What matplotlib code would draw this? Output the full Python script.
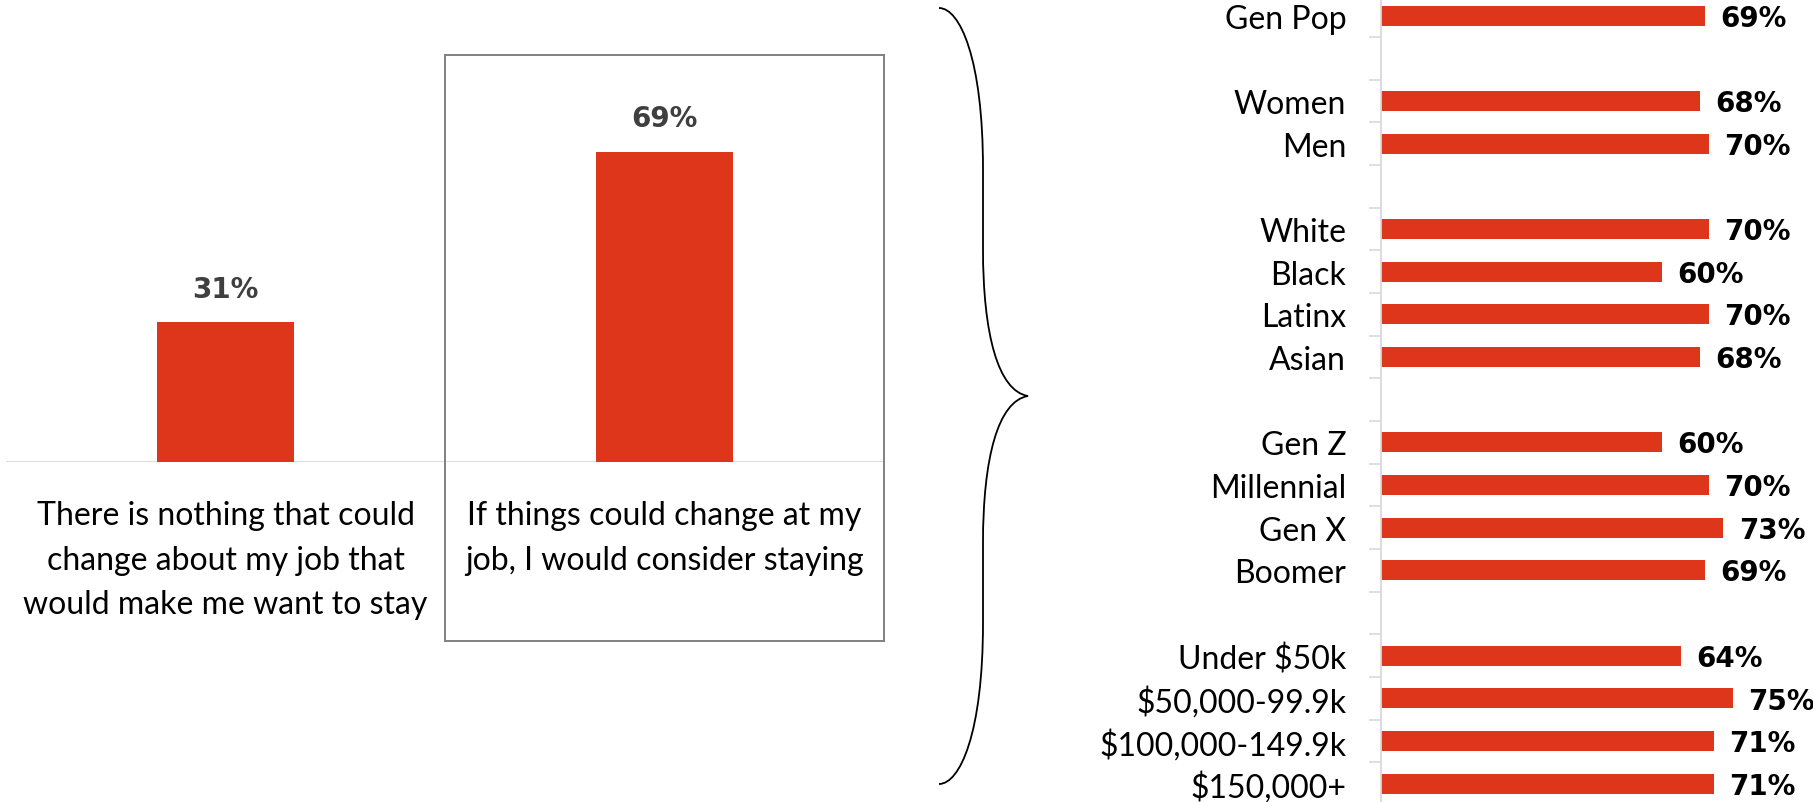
import numpy as np
import matplotlib
matplotlib.use('Agg')
import matplotlib.pyplot as plt
from matplotlib.patches import Rectangle, PathPatch
from matplotlib.path import Path
from matplotlib import rcParams

rcParams['font.family'] = 'Lato'

# overall answer
answers = ['There is nothing that could\nchange about my job that\nwould make me want to stay',
           'If things could change at my\njob, I would consider staying']
answer_pct = [31, 69]

# "would consider staying" by segment
groups = [
    (['Gen Pop'], [69]),
    (['Women', 'Men'], [68, 70]),
    (['White', 'Black', 'Latinx', 'Asian'], [70, 60, 70, 68]),
    (['Gen Z', 'Millennial', 'Gen X', 'Boomer'], [60, 70, 73, 69]),
    (['Under $50k', '$50,000-99.9k', '$100,000-149.9k', '$150,000+'], [64, 75, 71, 71]),
]

red = '#DD361A'
grid_grey = '#D9D9D9'
W, H = 1813, 803
pct_font = dict(family='DejaVu Sans', fontsize=20, fontweight='bold')

fig = plt.figure(figsize=(W / 100, H / 100), dpi=100, facecolor='white')

# ---- left: two big bars ----
ax = fig.add_axes([6 / W, (H - 462.5) / H, 878 / W, 449 / H])
x = np.arange(len(answers))
ax.bar(x, answer_pct, width=0.31, color=red, zorder=2)
ax.axhline(0, color=grid_grey, lw=1.3, zorder=1)
ax.set_xlim(-0.5, 1.5)
ax.set_ylim(0, 100)
ax.axis('off')
for xi, v in zip(x, answer_pct):
    ax.annotate(f'{v}%', (xi, v), xytext=(0, 24), textcoords='offset points',
                ha='center', va='center', color='#3F3F3F', **pct_font)
for xi, txt in zip(x, answers):
    ax.text(xi, -8.5, txt, ha='center', va='top', fontsize=23,
            color='black', linespacing=1.62)
# frame around the second answer
ax.add_patch(Rectangle((0.5, -39.9), 1.0, 130.5, fill=False, edgecolor='#808080',
                       lw=1.4, clip_on=False))

# ---- curly brace linking the two halves ----
px = lambda X, Y: (X / W, 1 - Y / H)
verts = [px(939, 9),
         px(960, 9), px(983, 60), px(983, 170),
         px(983, 250),
         px(983, 335), px(998, 392), px(1028, 397),
         px(998, 402), px(983, 459), px(983, 544),
         px(983, 624),
         px(983, 734), px(960, 785), px(939, 785)]
codes = [Path.MOVETO,
         Path.CURVE4, Path.CURVE4, Path.CURVE4,
         Path.LINETO,
         Path.CURVE4, Path.CURVE4, Path.CURVE4,
         Path.CURVE4, Path.CURVE4, Path.CURVE4,
         Path.LINETO,
         Path.CURVE4, Path.CURVE4, Path.CURVE4]
fig.add_artist(PathPatch(Path(verts, codes), fill=False, lw=1.3, edgecolor='black',
                         transform=fig.transFigure))

# ---- right: segment bars ----
labels, values, pos = [], [], []
row = 0
for names, vals in groups:
    for n, v in zip(names, vals):
        labels.append(n)
        values.append(v)
        pos.append(row)
        row += 1
    row += 1  # blank row between groups
n_rows = pos[-1] + 1

row_px = 42.67
top_px = 16.7 - row_px / 2
bot_px = 16.7 + (n_rows - 0.5) * row_px
ax2 = fig.add_axes([1381 / W, (H - bot_px) / H, (W - 1381) / W, (bot_px - top_px) / H])
ax2.barh(pos, values, height=0.47, color=red, zorder=2)
ax2.set_xlim(0, (W - 1381) / 4.69)
ax2.set_ylim(n_rows - 0.5, -0.5)
for s in ['top', 'right', 'bottom']:
    ax2.spines[s].set_visible(False)
ax2.spines['left'].set_color(grid_grey)
ax2.spines['left'].set_linewidth(1.3)
ax2.set_xticks([])
ax2.set_yticks(pos)
ax2.set_yticklabels(labels, fontsize=23)
ax2.set_yticks(np.arange(-0.5, n_rows, 1), minor=True)
ax2.tick_params(axis='y', which='major', length=0, pad=25)
ax2.tick_params(axis='y', which='minor', length=8.6, width=1.2, color=grid_grey)
for p, v in zip(pos, values):
    ax2.annotate(f'{v}%', (v, p), xytext=(11, -1.5), textcoords='offset points',
                 ha='left', va='center', color='black', **pct_font)

fig.savefig('out.png', dpi=100, facecolor='white')
